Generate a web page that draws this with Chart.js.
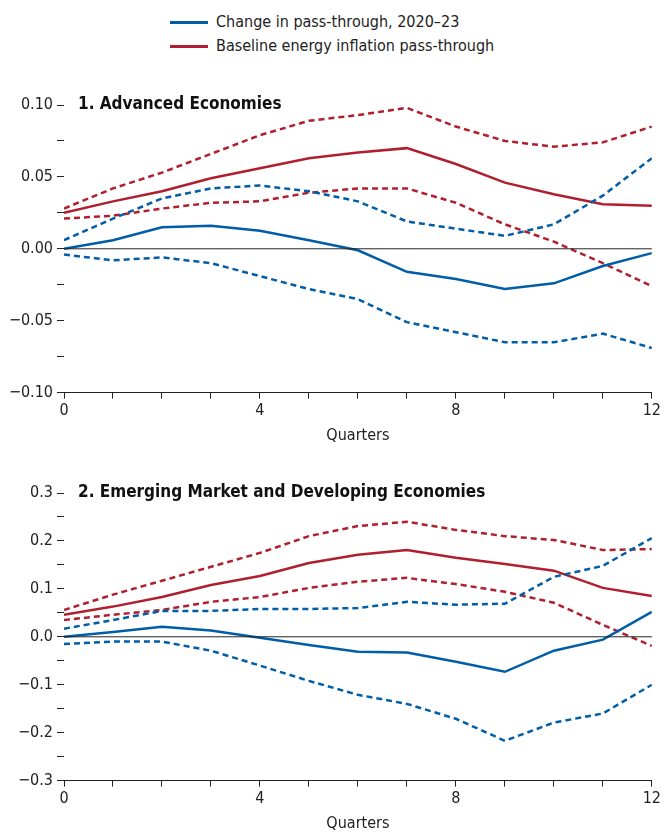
<!DOCTYPE html>
<html>
<head>
<meta charset="utf-8">
<script src="https://cdn.jsdelivr.net/npm/chart.js"></script>
<style>
  body { margin:0; width:664px; height:834px; background:#fff; position:relative; overflow:hidden; font-family:"DejaVu Sans Condensed","DejaVu Sans",sans-serif; }
  .legend { position:absolute; left:170px; top:10px; font-size:16px; color:#222; }
  .legend div { height:24px; line-height:24px; }
  .legend span { display:inline-block; width:38px; height:3px; vertical-align:middle; margin-right:8px; }
  canvas { position:absolute; left:0; }
</style>
</head>
<body>
<div class="legend">
  <div><span style="background:#005da8"></span>Change in pass-through, 2020–23</div>
  <div><span style="background:#b01f2e"></span>Baseline energy inflation pass-through</div>
</div>
<canvas id="c1" style="top:60px"></canvas>
<canvas id="c2" style="top:460px"></canvas>
<script>
const quarters = [0,1,2,3,4,5,6,7,8,9,10,11,12];

// Panel 1: Advanced Economies
const aeChange   = [0.000,0.006,0.015,0.016,0.0125,0.006,-0.001,-0.016,-0.021,-0.028,-0.024,-0.012,-0.003];
const aeChangeHi = [0.006,0.021,0.035,0.042,0.044,0.040,0.033,0.019,0.014,0.009,0.017,0.037,0.063];
const aeChangeLo = [-0.004,-0.008,-0.006,-0.010,-0.019,-0.028,-0.035,-0.051,-0.058,-0.065,-0.065,-0.059,-0.069];
const aeBase     = [0.025,0.033,0.040,0.049,0.056,0.063,0.067,0.070,0.059,0.046,0.038,0.031,0.030];
const aeBaseHi   = [0.028,0.042,0.053,0.066,0.079,0.089,0.093,0.098,0.085,0.075,0.071,0.074,0.085];
const aeBaseLo   = [0.021,0.023,0.028,0.032,0.033,0.039,0.042,0.042,0.032,0.017,0.005,-0.010,-0.026];

// Panel 2: Emerging Market and Developing Economies
const emChange   = [0.000,0.010,0.021,0.013,-0.002,-0.017,-0.031,-0.033,-0.052,-0.073,-0.029,-0.006,0.052];
const emChangeHi = [0.017,0.035,0.054,0.054,0.058,0.058,0.060,0.073,0.067,0.069,0.125,0.148,0.206];
const emChangeLo = [-0.015,-0.010,-0.010,-0.029,-0.060,-0.092,-0.121,-0.140,-0.171,-0.217,-0.179,-0.160,-0.100];
const emBase     = [0.046,0.063,0.083,0.108,0.127,0.154,0.171,0.181,0.165,0.152,0.138,0.102,0.085];
const emBaseHi   = [0.056,0.088,0.117,0.146,0.175,0.210,0.231,0.240,0.223,0.210,0.202,0.181,0.183];
const emBaseLo   = [0.035,0.046,0.056,0.073,0.083,0.102,0.115,0.123,0.110,0.094,0.071,0.025,-0.019];

const BLUE = '#005da8', RED = '#b01f2e';
const FONT = '"DejaVu Sans Condensed","DejaVu Sans",sans-serif';

function ds(vals, color, dashed) {
  return {
    data: quarters.map((q, i) => ({ x: q, y: vals[i] })),
    borderColor: color, borderWidth: 2.5, borderDash: dashed ? [6, 4] : [],
    pointRadius: 0, tension: 0, fill: false
  };
}

function makeChart(id, h, pad, title, series, yMin, yMax, step, major, fmt) {
  const cv = document.getElementById(id);
  cv.width = 664; cv.height = h;
  const titlePlugin = {
    id: 'title' + id,
    afterDraw(chart) {
      const { ctx, chartArea, scales } = chart;
      ctx.save();
      ctx.font = 'bold 17px ' + FONT;
      ctx.fillStyle = '#111';
      ctx.textBaseline = 'middle';
      ctx.fillText(title, chartArea.left + 14, scales.y.getPixelForValue(yMax));
      // zero line
      const y0 = scales.y.getPixelForValue(0);
      ctx.strokeStyle = '#222'; ctx.lineWidth = 1;
      ctx.beginPath(); ctx.moveTo(chartArea.left, y0); ctx.lineTo(chartArea.right, y0); ctx.stroke();
      ctx.restore();
    }
  };
  return new Chart(cv, {
    type: 'line',
    data: { datasets: series },
    options: {
      responsive: false, animation: false,
      layout: { padding: pad },
      plugins: { legend: { display: false }, tooltip: { enabled: false } },
      scales: {
        x: {
          type: 'linear', min: 0, max: 12,
          ticks: { stepSize: 1, autoSkip: false, color: '#222', font: { family: FONT, size: 16 },
            callback: v => (v % 4 === 0 ? String(v) : '') },
          grid: { drawOnChartArea: false, drawTicks: true, tickLength: 6, color: '#222' },
          border: { color: '#222', width: 1 },
          title: { display: true, text: 'Quarters', color: '#222', font: { family: FONT, size: 16 }, padding: { top: 2 } }
        },
        y: {
          min: yMin, max: yMax,
          afterFit(s) { s.width = 64; },
          ticks: { stepSize: step, autoSkip: false, color: '#222', font: { family: FONT, size: 16 }, padding: 4,
            callback: v => (Math.abs(Math.round(v / major) * major - v) < 1e-9 ? fmt(v) : '') },
          grid: { drawOnChartArea: false, drawTicks: true, tickLength: 7, color: '#222' },
          border: { display: false }
        }
      }
    },
    plugins: [titlePlugin]
  });
}

const fmt1 = v => (v < 0 ? '\u2212' : '') + Math.abs(v).toFixed(2);
const fmt2 = v => (v < 0 ? '\u2212' : '') + Math.abs(v).toFixed(1);

makeChart('c1', 389, { top: 45, right: 12, bottom: 0, left: 0 }, '1. Advanced Economies', [
  ds(aeChange, BLUE, false), ds(aeChangeHi, BLUE, true), ds(aeChangeLo, BLUE, true),
  ds(aeBase, RED, false), ds(aeBaseHi, RED, true), ds(aeBaseLo, RED, true)
], -0.10, 0.10, 0.025, 0.05, fmt1);

makeChart('c2', 377, { top: 33, right: 12, bottom: 0, left: 0 }, '2. Emerging Market and Developing Economies', [
  ds(emChange, BLUE, false), ds(emChangeHi, BLUE, true), ds(emChangeLo, BLUE, true),
  ds(emBase, RED, false), ds(emBaseHi, RED, true), ds(emBaseLo, RED, true)
], -0.3, 0.3, 0.05, 0.1, fmt2);
</script>
</body>
</html>
